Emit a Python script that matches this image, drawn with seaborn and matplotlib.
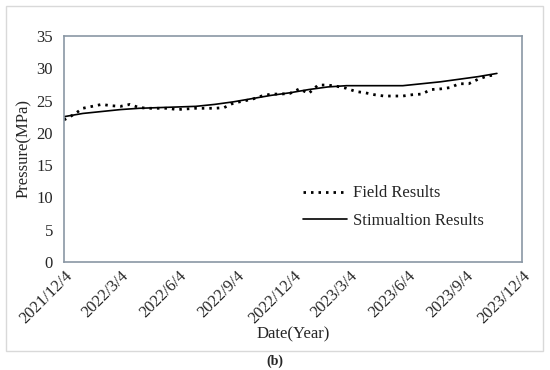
import pandas as pd
import seaborn as sns
import matplotlib.pyplot as plt
import matplotlib.dates as mdates
from matplotlib.patches import Rectangle

# field measurements, every 15 days from 2021/12/4
field_days = list(range(0, 691, 15))
field_mpa = [22.0, 22.8, 23.8, 24.1, 24.4, 24.2, 24.1, 24.4, 23.9, 23.8,
             23.8, 23.8, 23.6, 23.7, 23.8, 23.8, 23.8, 23.9, 24.6, 24.9,
             25.2, 25.7, 26.0, 26.0, 26.1, 26.8, 26.1, 27.4, 27.4, 27.2,
             26.9, 26.4, 26.2, 25.9, 25.7, 25.7, 25.7, 25.9, 26.0, 26.7,
             26.8, 27.0, 27.6, 27.6, 28.3, 28.8, 29.0]

# simulation, every 30 days
sim_days = list(range(0, 691, 30))
sim_mpa = [22.5, 23.0, 23.3, 23.6, 23.8, 23.9, 24.0, 24.1, 24.4, 24.8,
           25.3, 25.8, 26.2, 26.7, 27.1, 27.3, 27.3, 27.3, 27.3, 27.6,
           27.9, 28.3, 28.7, 29.2]

tick_dates = ["2021-12-04", "2022-03-04", "2022-06-04", "2022-09-04", "2022-12-04",
              "2023-03-04", "2023-06-04", "2023-09-04", "2023-12-04"]
tick_labels = ["2021/12/4", "2022/3/4", "2022/6/4", "2022/9/4", "2022/12/4",
               "2023/3/4", "2023/6/4", "2023/9/4", "2023/12/4"]

start = pd.Timestamp("2021-12-04")
field = pd.DataFrame({"date": start + pd.to_timedelta(field_days, unit="D"), "p": field_mpa})
sim = pd.DataFrame({"date": start + pd.to_timedelta(sim_days, unit="D"), "p": sim_mpa})

sns.set_style("white")
plt.rcParams["font.family"] = ["Liberation Serif", "DejaVu Serif"]

fig = plt.figure(figsize=(5.5, 3.7), dpi=100)
ax = fig.add_axes([0.1164, 0.292, 0.8327, 0.6108])

sns.lineplot(x="date", y="p", data=field, ax=ax, color="black", lw=2.0,
             label="Field Results")
ax.lines[-1].set_dashes((0.9, 1.8))
sns.lineplot(x="date", y="p", data=sim, ax=ax, color="black", lw=1.2,
             label="Stimualtion Results")

ax.set_xlim(pd.Timestamp(tick_dates[0]), pd.Timestamp(tick_dates[-1]))
ax.set_ylim(0, 35)
ax.set_yticks(range(0, 36, 5))
ax.set_xticks([mdates.date2num(pd.Timestamp(d)) for d in tick_dates])
ax.set_xticklabels(tick_labels, rotation=45, ha="right", rotation_mode="anchor")
ax.tick_params(direction="in", length=4, color="#8a97a4", labelsize=12, pad=4)
ax.tick_params(axis="y", pad=8)
for s in ax.spines.values():
    s.set_color("#8a97a4")
    s.set_linewidth(1.2)

ax.set_xlabel("Date(Year)", fontsize=12, labelpad=0)
ax.set_ylabel("Pressure(MPa)", fontsize=12, labelpad=3)

ax.legend(loc="upper left", bbox_to_anchor=(0.49, 0.405), frameon=False,
          fontsize=12, handlelength=2.6, handletextpad=0.4, labelspacing=0.7)

fig.patches.append(Rectangle((6 / 550, 1 - 351 / 370), 537 / 550, 345 / 370,
                             transform=fig.transFigure, fill=False,
                             edgecolor="#d9d9d9", lw=1))
fig.text(0.5, 1 - 361 / 370, "(b)", ha="center", va="center", fontsize=10,
         fontweight="bold")

fig.savefig("out.png", dpi=100)
